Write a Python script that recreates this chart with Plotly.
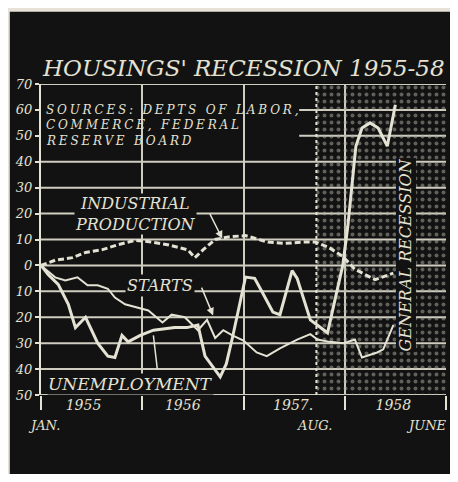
import plotly.graph_objects as go

# percent change from January 1955
ip_years = [1955.00, 1955.14, 1955.31, 1955.44, 1955.60, 1955.76, 1955.93, 1956.10, 1956.25,
            1956.45, 1956.52, 1956.60, 1956.72, 1956.85, 1957.02, 1957.24, 1957.41, 1957.58,
            1957.71, 1957.84, 1957.98, 1958.05, 1958.10, 1958.30, 1958.48]
industrial_production = [0, 2, 3, 5, 6, 8, 9.7, 9, 8, 6, 3, 6, 10, 11, 11.5, 9, 8.5, 9, 9, 7,
                         3.5, 0.5, -1.5, -5.5, -3]

starts_years = [1955.00, 1955.14, 1955.24, 1955.36, 1955.46, 1955.56, 1955.66, 1955.73, 1955.83,
                1955.93, 1956.06, 1956.20, 1956.29, 1956.42, 1956.55, 1956.64, 1956.72, 1956.80,
                1956.89, 1957.00, 1957.13, 1957.23, 1957.36, 1957.53, 1957.66, 1957.73, 1957.85,
                1957.99, 1958.10, 1958.17, 1958.32, 1958.38, 1958.48]
starts = [0, -4.6, -5.8, -4.6, -7.7, -7.7, -9, -12.4, -15, -16, -17.4, -22, -19, -20, -25, -21,
          -28, -25, -27, -29, -33.6, -35, -32, -28.6, -26.5, -28.6, -29.5, -30, -28.6, -35.5,
          -33.6, -32.4, -23]

unemp_years = [1955.00, 1955.07, 1955.17, 1955.27, 1955.34, 1955.44, 1955.56, 1955.66, 1955.73,
               1955.80, 1955.86, 1955.98, 1956.11, 1956.23, 1956.32, 1956.44, 1956.55, 1956.62,
               1956.77, 1956.83, 1956.89, 1957.02, 1957.11, 1957.18, 1957.29, 1957.36, 1957.48,
               1957.53, 1957.66, 1957.83, 1957.92, 1957.98, 1958.03, 1958.07, 1958.11, 1958.17,
               1958.25, 1958.33, 1958.42, 1958.50]
unemployment = [0, -3.5, -7.3, -15, -24, -20, -30, -35, -35.5, -27, -29.5, -27, -25, -24.5, -24,
                -24, -23, -35, -43, -38, -28, -4.5, -5, -10, -18, -19, -2, -5, -21, -26, -10, 0,
                15, 32, 46, 53, 55, 53, 46, 62]

recession_start = 1957.72
chart_end = 1959.0

year_bounds = [1955, 1956, 1957, 1958, 1959]
year_label_pos = [1955.42, 1956.40, 1957.49, 1958.48]
year_labels = ["1955", "1956", "1957.", "1958"]
month_labels = ["JAN.", "AUG.", "JUNE"]
month_label_pos = [1955.03, 1957.70, 1959.0]
y_ticks = list(range(-50, 71, 10))
y_ticktext = [str(abs(v)) for v in y_ticks]
source_lines = ["SOURCES: DEPTS OF LABOR,", "COMMERCE, FEDERAL", "RESERVE BOARD"]
source_y = [60, 54, 48]

CHALK = "#e4e2d3"
GRID = "#cfcdc0"
BOARD = "#121212"
PAPER = "#e6e2d8"
FONT = "DejaVu Serif"

fig = go.Figure()

# dotted "general recession" zone
fig.add_trace(go.Scatter(
    x=[recession_start, chart_end, chart_end, recession_start, recession_start],
    y=[-50, -50, 70, 70, -50], mode="lines", fill="toself",
    fillcolor="rgba(0,0,0,0)", line=dict(width=0),
    fillpattern=dict(shape=".", fgcolor="#b0b0a4", bgcolor="rgba(0,0,0,0)",
                     size=7, solidity=0.25),
    hoverinfo="skip"))

fig.add_trace(go.Scatter(x=ip_years, y=industrial_production, mode="lines",
                         line=dict(color=CHALK, width=3, dash="6px,3px")))
fig.add_trace(go.Scatter(x=starts_years, y=starts, mode="lines",
                         line=dict(color=CHALK, width=2)))
fig.add_trace(go.Scatter(x=unemp_years, y=unemployment, mode="lines",
                         line=dict(color=CHALK, width=3)))

# light page edge along the top and left of the board
shapes = [
    dict(type="rect", xref="paper", yref="paper", x0=-0.5, x1=1.5, y0=1.232, y1=1.6,
         fillcolor=PAPER, line=dict(width=0), layer="below"),
    dict(type="rect", xref="paper", yref="paper", x0=-0.5, x1=-0.077, y0=-0.5, y1=1.6,
         fillcolor=PAPER, line=dict(width=0), layer="below"),
]
for v in y_ticks:
    x0 = 1957.55 if v in (50, 60) else 1955
    shapes.append(dict(type="line", xref="x", yref="y", x0=x0, x1=chart_end, y0=v, y1=v,
                       line=dict(color=GRID, width=2), layer="below"))
shapes.append(dict(type="line", xref="x", yref="y", x0=recession_start, x1=recession_start,
                   y0=-50, y1=70, line=dict(color=CHALK, width=2, dash="dot")))

txt = dict(family=FONT, color=CHALK, style="italic")
annotations = [
    dict(text="HOUSINGS' RECESSION 1955-58", xref="paper", yref="paper", x=0.5, y=1.051,
         yanchor="middle", showarrow=False, font=dict(txt, size=23)),
    dict(text="INDUSTRIAL<br>PRODUCTION", x=1955.93, y=20, showarrow=False, bgcolor=BOARD,
         font=dict(txt, size=16), borderpad=0),
    dict(text="", x=1956.79, y=10.4, ax=1956.66, ay=20.5, axref="x", ayref="y",
         showarrow=True, arrowhead=2, arrowsize=1, arrowwidth=1.5, arrowcolor=CHALK),
    dict(text="STARTS", x=1956.18, y=-7.7, showarrow=False, bgcolor=BOARD,
         font=dict(txt, size=16)),
    dict(text="", x=1956.70, y=-19.3, ax=1956.58, ay=-8, axref="x", ayref="y",
         showarrow=True, arrowhead=2, arrowsize=1, arrowwidth=1.5, arrowcolor=CHALK),
    dict(text="UNEMPLOYMENT", x=1955.88, y=-45.6, showarrow=False, bgcolor=BOARD,
         font=dict(txt, size=17), borderpad=0),
    dict(text="", x=1956.11, y=-27, ax=1956.15, ay=-40.5, axref="x", ayref="y",
         showarrow=True, arrowhead=0, arrowwidth=1.5, arrowcolor=CHALK),
    dict(text="GENERAL RECESSION", x=1958.6, y=4, textangle=-90, showarrow=False,
         bgcolor=BOARD, font=dict(txt, size=16), borderpad=0),
]
for label, xv in zip(month_labels, month_label_pos):
    last = label == "JUNE"
    annotations.append(dict(text=label, xref="x", yref="paper", x=xv, y=-0.097,
                            xanchor="right" if last else "center", xshift=3 if last else 0,
                            yanchor="middle", showarrow=False, font=dict(txt, size=13)))
for line, yv in zip(source_lines, source_y):
    annotations.append(dict(text='<span style="letter-spacing:2.8px">' + line + "</span>",
                            x=1955.03, y=yv, xanchor="left", yanchor="middle",
                            showarrow=False, font=dict(txt, size=12)))

fig.update_layout(
    width=442, height=466,
    margin=dict(l=33, r=4, t=76, b=79),
    paper_bgcolor=BOARD, plot_bgcolor="rgba(0,0,0,0)",
    showlegend=False, shapes=shapes, annotations=annotations,
)
fig.update_xaxes(range=[1955, chart_end], tickmode="array", tickvals=year_label_pos,
                 ticktext=year_labels, ticks="", showgrid=False, zeroline=False,
                 tickfont=dict(txt, size=14),
                 minor=dict(tickmode="array", tickvals=year_bounds, ticks="outside",
                            ticklen=14, tickwidth=2, tickcolor=CHALK, showgrid=True,
                            gridcolor=GRID, gridwidth=2))
fig.update_yaxes(range=[-50, 70], tickmode="array", tickvals=y_ticks, ticktext=y_ticktext,
                 ticks="outside", ticklen=4, tickwidth=2, tickcolor=CHALK,
                 showgrid=False, zeroline=False, showline=True, linecolor=CHALK,
                 linewidth=2, tickfont=dict(txt, size=13))

fig.write_html("out.html")
